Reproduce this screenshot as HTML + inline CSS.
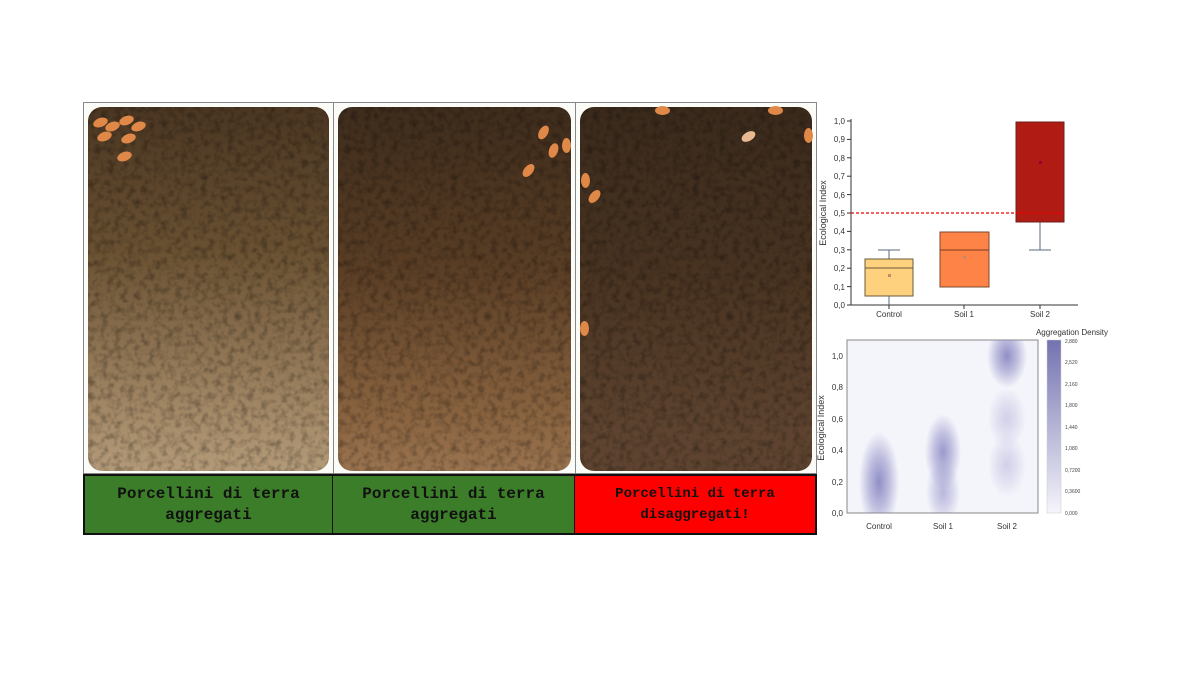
<!DOCTYPE html>
<html><head><style>
body{margin:0;width:1200px;height:674px;background:#fff;position:relative;overflow:hidden;font-family:"Liberation Sans",sans-serif}
.p{position:absolute;top:102px;height:372px;background:#fbfbf8;border:1px solid #888;box-sizing:border-box;overflow:hidden}
.s{position:absolute;left:4px;right:4px;top:4px;bottom:2px;border-radius:14px}
.l{position:absolute;top:474px;height:61px;box-sizing:border-box;border:2px solid #111;display:flex;align-items:center;justify-content:center;text-align:center;font-family:"Liberation Mono",monospace;font-weight:bold;color:#111;line-height:21px}
.w{position:absolute;width:9px;height:15px;border-radius:50%;background:#e08848}
</style></head><body>
<svg width="0" height="0" style="position:absolute"><filter id="n"><feTurbulence type="fractalNoise" baseFrequency="0.15" numOctaves="2" result="t"/><feColorMatrix in="t" type="matrix" values="0 0 0 0 0  0 0 0 0 0  0 0 0 0 0  0 0 0 -1.3 0.75"/><feComposite in2="SourceGraphic" operator="in"/></filter></svg>
<div class="p" style="left:83px;width:251px"><div class="s" style="background:linear-gradient(#4a3622,#6a5132 40%,#a58a68 85%,#b39a78)"></div><div class="s" style="background:#000;filter:url(#n);opacity:.5"></div>
<div class="w" style="left:12px;top:12px;transform:rotate(70deg)"></div><div class="w" style="left:24px;top:16px;transform:rotate(70deg)"></div><div class="w" style="left:38px;top:10px;transform:rotate(70deg)"></div><div class="w" style="left:50px;top:16px;transform:rotate(70deg)"></div><div class="w" style="left:40px;top:28px;transform:rotate(70deg)"></div><div class="w" style="left:16px;top:26px;transform:rotate(70deg)"></div><div class="w" style="left:36px;top:46px;transform:rotate(70deg)"></div></div>
<div class="p" style="left:333px;width:243px"><div class="s" style="background:linear-gradient(#3e2c1c,#5a3e25 45%,#8a6440 85%,#9a7450)"></div><div class="s" style="background:#000;filter:url(#n);opacity:.5"></div>
<div class="w" style="left:205px;top:22px;transform:rotate(30deg)"></div><div class="w" style="left:215px;top:40px;transform:rotate(20deg)"></div><div class="w" style="left:190px;top:60px;transform:rotate(40deg)"></div><div class="w" style="left:228px;top:35px"></div></div>
<div class="p" style="left:575px;width:242px"><div class="s" style="background:linear-gradient(#3a2a1c,#4a3422 50%,#5e4430 90%)"></div><div class="s" style="background:#000;filter:url(#n);opacity:.5"></div>
<div class="w" style="left:82px;top:0px;transform:rotate(90deg)"></div><div class="w" style="left:195px;top:0px;transform:rotate(90deg)"></div><div class="w" style="left:228px;top:25px"></div><div class="w" style="left:168px;top:26px;transform:rotate(60deg);background:#e8b890"></div><div class="w" style="left:5px;top:70px"></div><div class="w" style="left:14px;top:86px;transform:rotate(40deg)"></div><div class="w" style="left:4px;top:218px"></div></div>
<div class="l" style="left:83px;width:251px;background:#3b7d28;font-size:16px">Porcellini di terra<br>aggregati</div>
<div class="l" style="left:333px;width:243px;background:#3b7d28;font-size:16px;border-left:none">Porcellini di terra<br>aggregati</div>
<div class="l" style="left:575px;width:242px;background:#ff0000;font-size:14px;border-left:none">Porcellini di terra<br>disaggregati!</div>

<svg style="position:absolute;left:0;top:0" width="1200" height="674" font-family="Liberation Sans,sans-serif">
<g font-size="8" fill="#333" text-anchor="end">
<line x1="851" y1="119" x2="851" y2="305" stroke="#333"/>
<line x1="851" y1="305" x2="1078" y2="305" stroke="#333"/>
<g stroke="#333">
<line x1="847" y1="121" x2="851" y2="121"/><line x1="847" y1="139.4" x2="851" y2="139.4"/><line x1="847" y1="157.8" x2="851" y2="157.8"/><line x1="847" y1="176.2" x2="851" y2="176.2"/><line x1="847" y1="194.6" x2="851" y2="194.6"/><line x1="847" y1="213" x2="851" y2="213"/><line x1="847" y1="231.4" x2="851" y2="231.4"/><line x1="847" y1="249.8" x2="851" y2="249.8"/><line x1="847" y1="268.2" x2="851" y2="268.2"/><line x1="847" y1="286.6" x2="851" y2="286.6"/><line x1="847" y1="305" x2="851" y2="305"/>
<line x1="889" y1="305" x2="889" y2="309"/><line x1="964" y1="305" x2="964" y2="309"/><line x1="1040" y1="305" x2="1040" y2="309"/>
</g>
<text x="845" y="124">1,0</text><text x="845" y="142">0,9</text><text x="845" y="161">0,8</text><text x="845" y="179">0,7</text><text x="845" y="198">0,6</text><text x="845" y="216">0,5</text><text x="845" y="234">0,4</text><text x="845" y="253">0,3</text><text x="845" y="271">0,2</text><text x="845" y="290">0,1</text><text x="845" y="308">0,0</text>
</g>
<text transform="translate(826,213) rotate(-90)" font-size="9" text-anchor="middle" fill="#333">Ecological Index</text>
<g font-size="8" fill="#333" text-anchor="middle"><text x="889" y="317">Control</text><text x="964" y="317">Soil 1</text><text x="1040" y="317">Soil 2</text></g>
<g stroke="#5a6a80"><line x1="889" y1="250" x2="889" y2="259"/><line x1="878" y1="250" x2="900" y2="250"/><line x1="889" y1="296" x2="889" y2="305"/>
<line x1="1040" y1="222" x2="1040" y2="250"/><line x1="1029" y1="250" x2="1051" y2="250"/></g>
<rect x="865" y="259" width="48" height="37" fill="#fdd17e" stroke="#6a5a3a"/><line x1="865" y1="268" x2="913" y2="268" stroke="#6a5a3a"/>
<rect x="940" y="232" width="49" height="55" fill="#fd8346" stroke="#7a4a30"/><line x1="940" y1="250" x2="989" y2="250" stroke="#7a3a20"/>
<rect x="1016" y="122" width="48" height="100" fill="#b01c14" stroke="#6a2020"/>
<line x1="851" y1="213" x2="1064" y2="213" stroke="#e00" stroke-width="1.3" stroke-dasharray="3,2"/>
<g fill="#c86"><rect x="888" y="274" width="3" height="3"/><rect x="963" y="256" width="3" height="3"/><rect x="1039" y="161" width="3" height="3" fill="#903"/></g>

<defs>
<radialGradient id="g"><stop offset="0" stop-color="#8583c0" stop-opacity=".9"/><stop offset=".5" stop-color="#8583c0" stop-opacity=".5"/><stop offset="1" stop-color="#8583c0" stop-opacity="0"/></radialGradient>
<linearGradient id="cb" x1="0" y1="1" x2="0" y2="0"><stop offset="0" stop-color="#f5f5fb"/><stop offset="1" stop-color="#7372b0"/></linearGradient>
<clipPath id="c"><rect x="847" y="340" width="191" height="173"/></clipPath>
</defs>
<rect x="847" y="340" width="191" height="173" fill="#f4f4fb" stroke="#888"/>
<g clip-path="url(#c)">
<ellipse cx="879" cy="482" rx="20" ry="50" fill="url(#g)"/>
<ellipse cx="943" cy="452" rx="18" ry="38" fill="url(#g)" opacity=".9"/>
<ellipse cx="943" cy="492" rx="17" ry="32" fill="url(#g)" opacity=".6"/>
<ellipse cx="1007" cy="356" rx="20" ry="32" fill="url(#g)"/>
<ellipse cx="1007" cy="418" rx="19" ry="30" fill="url(#g)" opacity=".35"/>
<ellipse cx="1007" cy="465" rx="19" ry="32" fill="url(#g)" opacity=".35"/>
</g>
<g font-size="8" fill="#333" text-anchor="end">
<text x="843" y="359">1,0</text><text x="843" y="390">0,8</text><text x="843" y="422">0,6</text><text x="843" y="453">0,4</text><text x="843" y="485">0,2</text><text x="843" y="516">0,0</text>
</g>
<g font-size="8" fill="#333" text-anchor="middle"><text x="879" y="529">Control</text><text x="943" y="529">Soil 1</text><text x="1007" y="529">Soil 2</text></g>
<text transform="translate(824,428) rotate(-90)" font-size="9" text-anchor="middle" fill="#333">Ecological Index</text>
<rect x="1047" y="340" width="14" height="173" fill="url(#cb)" stroke="#ccc" stroke-width=".5"/>
<text x="1072" y="335" font-size="8" fill="#333" text-anchor="middle">Aggregation Density</text>
<g font-size="5" fill="#444"><text x="1065" y="343">2,880</text><text x="1065" y="364">2,520</text><text x="1065" y="386">2,160</text><text x="1065" y="407">1,800</text><text x="1065" y="429">1,440</text><text x="1065" y="450">1,080</text><text x="1065" y="472">0,7200</text><text x="1065" y="493">0,3600</text><text x="1065" y="515">0,000</text></g>
</svg>
</body></html>
